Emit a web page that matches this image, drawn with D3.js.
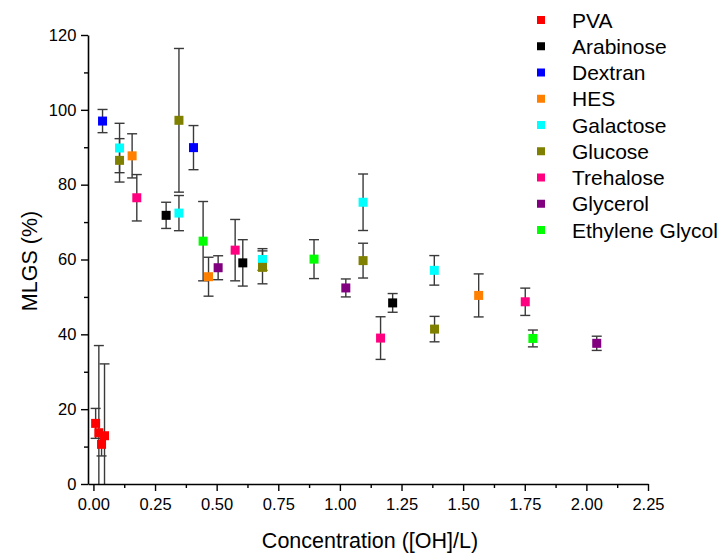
<!DOCTYPE html>
<html>
<head>
<meta charset="utf-8">
<script src="https://cdn.jsdelivr.net/npm/d3@7"></script>
<style>
  html, body { margin: 0; padding: 0; background: #fff; }
  svg { display: block; font-family: "Liberation Sans", Arial, sans-serif; }
</style>
</head>
<body>
<svg id="chart" width="723" height="553"></svg>
<script>
// Series names and colours
const seriesNames = ["PVA", "Arabinose", "Dextran", "HES", "Galactose", "Glucose", "Trehalose", "Glycerol", "Ethylene Glycol"];
const seriesColors = ["#ff0000", "#000000", "#0000ff", "#ff8000", "#00ffff", "#808000", "#ff0080", "#800080", "#00ff00"];

// Each point: [concentration, MLGS %, error]
const PVA = [[0.009, 16.2, 4.0], [0.022, 13.7, 23.3], [0.033, 10.6, 3.1], [0.045, 12.9, 19.2]];
const Arabinose = [[0.295, 71.8, 3.5], [0.606, 59.1, 6.2], [1.214, 48.4, 2.5]];
const Dextran = [[0.037, 97.0, 3.1], [0.406, 89.9, 5.9]];
const HES = [[0.157, 87.7, 5.9], [0.467, 55.4, 5.2], [1.563, 50.4, 5.75]];
const Galactose = [[0.106, 89.8, 6.6], [0.347, 72.4, 4.7], [0.686, 60.0, 2.9], [1.094, 75.3, 7.55], [1.383, 57.1, 3.95]];
const Glucose = [[0.106, 86.5, 5.8], [0.347, 97.2, 19.2], [0.686, 57.9, 4.4], [1.094, 59.7, 4.65], [1.384, 41.4, 3.4]];
const Trehalose = [[0.176, 76.5, 6.2], [0.575, 62.5, 8.2], [1.165, 39.0, 5.7], [1.752, 48.7, 3.65]];
const Glycerol = [[0.506, 57.8, 3.2], [1.024, 52.4, 2.4], [2.042, 37.6, 1.9]];
const EthyleneGlycol = [[0.445, 64.9, 10.6], [0.895, 60.1, 5.2], [1.783, 38.9, 2.25]];

const seriesData = [PVA, Arabinose, Dextran, HES, Galactose, Glucose, Trehalose, Glycerol, EthyleneGlycol];

const xTicks = [0, 0.25, 0.5, 0.75, 1.0, 1.25, 1.5, 1.75, 2.0, 2.25];
const yTicks = [0, 20, 40, 60, 80, 100, 120];
const xLabel = "Concentration ([OH]/L)";
const yLabel = "MLGS (%)";

const svg = d3.select("#chart");
const x = d3.scaleLinear().domain([-0.022, 2.25]).range([88, 648]);
const y = d3.scaleLinear().domain([0, 120]).range([484, 35]);

// Error bars (clipped at plot bottom)
const eb = svg.append("g").attr("stroke", "#3a3a3a").attr("stroke-width", 1.4).attr("fill", "none");
seriesData.forEach((arr) => {
  arr.forEach(d => {
    const cx = x(d[0]);
    const top = y(d[1] + d[2]);
    const lowVal = d[1] - d[2];
    const bot = y(Math.max(0, lowVal));
    eb.append("line").attr("x1", cx).attr("x2", cx).attr("y1", top).attr("y2", bot);
    eb.append("line").attr("x1", cx - 5).attr("x2", cx + 5).attr("y1", top).attr("y2", top);
    if (lowVal >= 0) {
      eb.append("line").attr("x1", cx - 5).attr("x2", cx + 5).attr("y1", bot).attr("y2", bot);
    }
  });
});

// Markers
const ms = 9;
seriesData.forEach((arr, i) => {
  svg.append("g").selectAll("rect").data(arr).join("rect")
    .attr("x", d => x(d[0]) - ms / 2)
    .attr("y", d => y(d[1]) - ms / 2)
    .attr("width", ms).attr("height", ms)
    .attr("fill", seriesColors[i]);
});

// Axes
const xMinor = d3.range(0.125, 2.25, 0.25);
const yMinor = d3.range(10, 120, 20);

const xAxis = svg.append("g").attr("transform", "translate(0,484)");
xAxis.call(d3.axisBottom(x).tickValues(xTicks).tickFormat(d3.format(".2f")).tickSize(7).tickSizeOuter(0));
const xAxisMinor = svg.append("g").attr("transform", "translate(0,484)");
xAxisMinor.call(d3.axisBottom(x).tickValues(xMinor).tickFormat("").tickSize(4).tickSizeOuter(0));
xAxisMinor.select(".domain").remove();

const yAxis = svg.append("g").attr("transform", "translate(88,0)");
yAxis.call(d3.axisLeft(y).tickValues(yTicks).tickSize(7).tickSizeOuter(0));
const yAxisMinor = svg.append("g").attr("transform", "translate(88,0)");
yAxisMinor.call(d3.axisLeft(y).tickValues(yMinor).tickFormat("").tickSize(4).tickSizeOuter(0));
yAxisMinor.select(".domain").remove();

svg.selectAll(".domain").attr("stroke", "#000").attr("stroke-width", 1.6);
svg.selectAll(".tick line").attr("stroke", "#000").attr("stroke-width", 1.4);
xAxis.selectAll(".tick text").attr("font-size", 16.5).attr("font-family", "Liberation Sans, Arial, sans-serif").attr("fill", "#000").attr("dy", "0.95em");
yAxis.selectAll(".tick text").attr("font-size", 16.5).attr("font-family", "Liberation Sans, Arial, sans-serif").attr("fill", "#000").attr("dx", "-0.1em");

// Axis titles
svg.append("text").attr("x", 370).attr("y", 548).attr("text-anchor", "middle")
  .attr("font-size", 21.5).attr("fill", "#000").text(xLabel);
svg.append("text").attr("transform", "translate(37,261) rotate(-90)").attr("text-anchor", "middle")
  .attr("font-size", 21.5).attr("fill", "#000").text(yLabel);

// Legend
const lg = svg.append("g");
seriesNames.forEach((name, i) => {
  const cy = 20 + i * 26.25;
  lg.append("rect").attr("x", 537).attr("y", cy - 4).attr("width", 8).attr("height", 8).attr("fill", seriesColors[i]);
  lg.append("text").attr("x", 572).attr("y", cy + 7.5).attr("font-size", 21).attr("fill", "#000").text(name);
});
</script>
</body>
</html>
